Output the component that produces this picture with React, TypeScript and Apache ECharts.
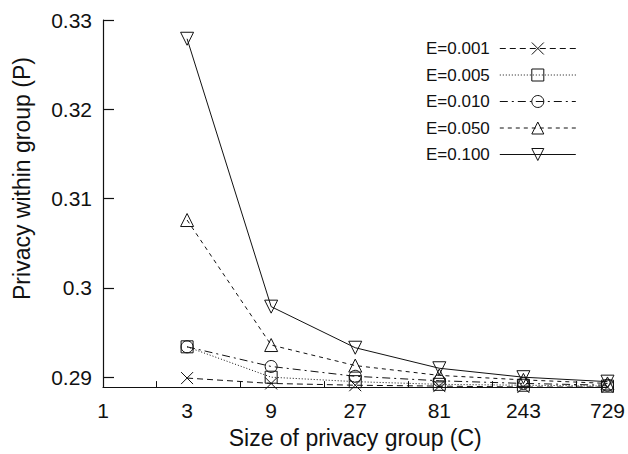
import React, { useEffect, useRef } from "react";
import * as echarts from "echarts";

// x: size of privacy group (C)
const groupSizes = [3, 9, 27, 81, 243, 729];
// y tick values
const yTickValues = [0.29, 0.3, 0.31, 0.32, 0.33];
const seriesNames = ["E=0.001", "E=0.005", "E=0.010", "E=0.050", "E=0.100"];

// privacy within group (P)
const e001 = [0.2899, 0.2893, 0.2891, 0.289, 0.2889, 0.2889];
const e005 = [0.2934, 0.29, 0.2895, 0.2892, 0.2891, 0.289];
const e010 = [0.2934, 0.2912, 0.2901, 0.2896, 0.2893, 0.2891];
const e050 = [0.3076, 0.2936, 0.2913, 0.2902, 0.2897, 0.2893];
const e100 = [0.3279, 0.2979, 0.2933, 0.291, 0.29, 0.2895];

const seriesValues = [e001, e005, e010, e050, e100];

const FONT = "'Liberation Sans', Arial, Helvetica, sans-serif";
const INK = "#111";

const styles = [
  { symbol: "path://M0,0L10,10M10,0L0,10", rotate: 0, dash: [6, 4] as number[] | string, size: 12 },
  { symbol: "rect", rotate: 0, dash: [1, 2], size: 12 },
  { symbol: "circle", rotate: 0, dash: [8, 4, 2, 4], size: 12 },
  { symbol: "triangle", rotate: 0, dash: [4, 4], size: 13 },
  { symbol: "triangle", rotate: 180, dash: "solid", size: 13 },
];

export default function App() {
  const ref = useRef<HTMLDivElement>(null);

  useEffect(() => {
    if (!ref.current) return;
    const chart = echarts.init(ref.current, null, { renderer: "svg" });

    const series = seriesNames.map((name, i) => ({
      name,
      type: "line",
      data: groupSizes.map((c, j) => [c, seriesValues[i][j]]),
      symbol: styles[i].symbol,
      symbolSize: styles[i].size,
      symbolRotate: styles[i].rotate,
      showAllSymbol: true,
      z: 2 + i,
      itemStyle: {
        color: "rgba(0,0,0,0)",
        borderColor: INK,
        borderWidth: 1,
      },
      lineStyle: {
        color: INK,
        width: 1,
        type: styles[i].dash,
      },
      emphasis: { disabled: true },
    }));

    chart.setOption({
      animation: false,
      backgroundColor: "#fff",
      textStyle: { fontFamily: FONT, color: INK },
      grid: { left: 103, right: 19, top: 20, bottom: 65, containLabel: false },
      legend: {
        orient: "vertical",
        left: 421,
        top: 35,
        align: "right",
        itemWidth: 76,
        itemHeight: 15,
        itemGap: 9.5,
        itemStyle: { borderWidth: 1 },
        lineStyle: { width: 1 },
        textStyle: {
          fontFamily: FONT,
          fontSize: 17,
          color: INK,
          padding: [0, 5, 0, 0],
        },
        data: seriesNames,
      },
      xAxis: {
        type: "log",
        logBase: 3,
        min: 1,
        max: 729,
        name: "Size of privacy group (C)",
        nameLocation: "middle",
        nameGap: 38,
        nameTextStyle: { fontFamily: FONT, fontSize: 23, color: INK },
        axisLine: { onZero: false, lineStyle: { color: INK, width: 1.2 } },
        axisTick: { show: false, inside: true },
        minorTick: { show: true, splitNumber: 2, length: 6, lineStyle: { color: INK, width: 1 } },
        axisLabel: { fontFamily: FONT, fontSize: 21, color: INK, margin: 13 },
        splitLine: { show: false },
        minorSplitLine: { show: false },
      },
      yAxis: {
        type: "value",
        min: 0.28889,
        max: 0.33,
        name: "Privacy within group (P)",
        nameLocation: "middle",
        nameGap: 70,
        nameTextStyle: {
          fontFamily: FONT,
          fontSize: 23,
          color: INK,
          padding: [0, 0, 0, 50],
        },
        axisLine: { show: true, lineStyle: { color: INK, width: 1.2 } },
        axisTick: {
          show: true,
          inside: true,
          length: 11,
          customValues: yTickValues,
          lineStyle: { color: INK, width: 1.2 },
        },
        axisLabel: {
          fontFamily: FONT,
          fontSize: 21,
          color: INK,
          margin: 11,
          customValues: yTickValues,
        },
        splitLine: { show: false },
      },
      series,
    });

    return () => chart.dispose();
  }, []);

  return (
    <div
      ref={ref}
      style={{ position: "fixed", left: 0, top: 0, width: 628, height: 454, background: "#fff" }}
    />
  );
}
